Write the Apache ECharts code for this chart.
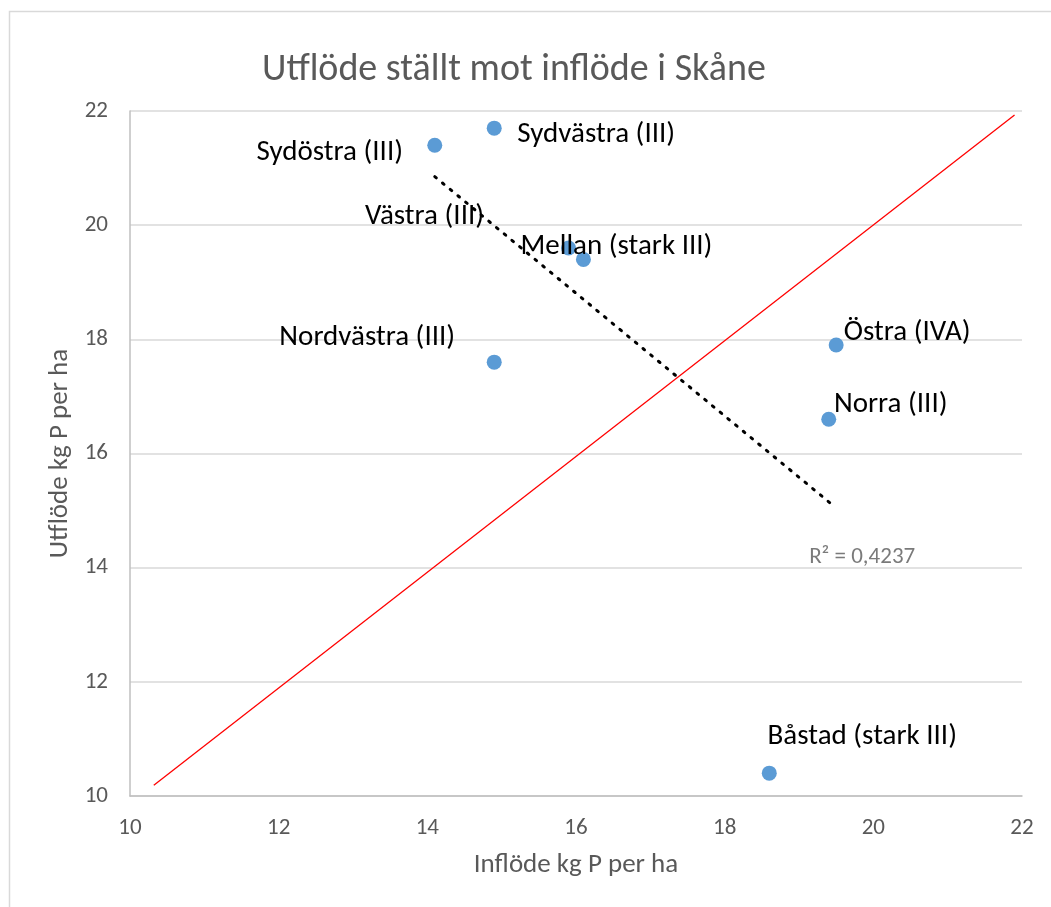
<!DOCTYPE html>
<html>
<head>
<meta charset="utf-8">
<style>
    html, body { margin: 0; padding: 0; background: #fff; }
    #container { width: 1051px; height: 907px; }
</style>
<script src="https://cdn.jsdelivr.net/npm/echarts@6/dist/echarts.min.js"></script>
</head>
<body>
<div id="container"></div>
<script>
    // regioner i Skåne
    var names = ['Sydöstra (III)', 'Sydvästra (III)', 'Västra (III)', 'Mellan (stark III)',
        'Nordvästra (III)', 'Östra (IVA)', 'Norra (III)', 'Båstad (stark III)'];
    var inflode = [14.1, 14.9, 15.9, 16.1, 14.9, 19.5, 19.4, 18.6];
    var utflode = [21.4, 21.7, 19.6, 19.4, 17.6, 17.9, 16.6, 10.4];
    // label offsets (px) from the point
    var labelOffsets = [[-105, 7], [102, 7], [-144, -31], [33, -13], [-127, -24], [71, -12], [62, -15], [93, -36]];
    var oneToOne = [[10.32, 10.19], [21.9, 21.93]];
    var trendLine = [[14.1, 20.85], [19.45, 15.1]];
    var r2Text = 'R² = 0,4237';
    var r2Pos = [19.85, 14.19];
    var axisTicks = [10, 12, 14, 16, 18, 20, 22];

    var font = 'Carlito, Calibri, "Liberation Sans", sans-serif';
    var grey = '#595959';

    var points = [];
    for (var i = 0; i < names.length; i++) {
        points.push({
            value: [inflode[i], utflode[i]],
            name: names[i],
            label: { offset: labelOffsets[i] }
        });
    }

    var myChart = echarts.init(document.getElementById('container'));
    var option = {
        animation: false,
        backgroundColor: '#fff',
        title: {
            text: 'Utflöde ställt mot inflöde i Skåne',
            left: 262,
            top: 51,
            padding: 0,
            textStyle: { fontFamily: font, fontSize: 38, fontWeight: 'normal', color: grey }
        },
        graphic: [{
            type: 'rect',
            shape: { x: 9.5, y: 11.5, width: 1100, height: 1000 },
            style: { fill: 'none', stroke: '#d9d9d9', lineWidth: 1.5 },
            silent: true
        }],
        grid: { left: 130, right: 29, top: 111, bottom: 111 },
        xAxis: {
            type: 'value',
            min: axisTicks[0],
            max: axisTicks[axisTicks.length - 1],
            interval: 2,
            name: 'Inflöde kg P per ha',
            nameLocation: 'middle',
            nameGap: 56,
            nameTextStyle: { fontFamily: font, fontSize: 27, color: grey },
            axisLine: { show: true, lineStyle: { color: '#bfbfbf', width: 1.5 } },
            axisTick: { show: false },
            axisLabel: { fontFamily: font, fontSize: 23, color: grey, margin: 21 },
            splitLine: { show: false }
        },
        yAxis: {
            type: 'value',
            min: axisTicks[0],
            max: axisTicks[axisTicks.length - 1],
            interval: 2,
            name: 'Utflöde kg P per ha',
            nameLocation: 'middle',
            nameGap: 55,
            nameTextStyle: { fontFamily: font, fontSize: 27, color: grey },
            axisLine: { show: true, lineStyle: { color: '#bfbfbf', width: 1.5 } },
            axisTick: { show: false },
            axisLabel: { fontFamily: font, fontSize: 23, color: grey, margin: 22 },
            splitLine: { show: true, lineStyle: { color: '#d9d9d9', width: 1.5 } }
        },
        series: [
            {
                name: '1:1',
                type: 'line',
                data: oneToOne,
                symbol: 'none',
                lineStyle: { color: '#ff0000', width: 1.3 },
                z: 1
            },
            {
                name: 'Trend',
                type: 'line',
                data: trendLine,
                symbol: 'none',
                lineStyle: { color: '#000', width: 3, type: [2, 8], cap: 'round' },
                z: 2
            },
            {
                name: 'Regioner',
                type: 'scatter',
                data: points,
                symbolSize: 15,
                itemStyle: { color: '#5b9bd5', opacity: 1 },
                label: {
                    show: true,
                    position: 'inside',
                    formatter: '{b}',
                    fontFamily: font,
                    fontSize: 29,
                    color: '#000'
                },
                z: 3
            },
            {
                name: 'R2',
                type: 'scatter',
                data: [r2Pos],
                symbolSize: 0,
                label: {
                    show: true,
                    position: 'inside',
                    formatter: r2Text,
                    fontFamily: font,
                    fontSize: 23,
                    color: grey
                },
                z: 4
            }
        ]
    };
    myChart.setOption(option);
</script>
</body>
</html>
